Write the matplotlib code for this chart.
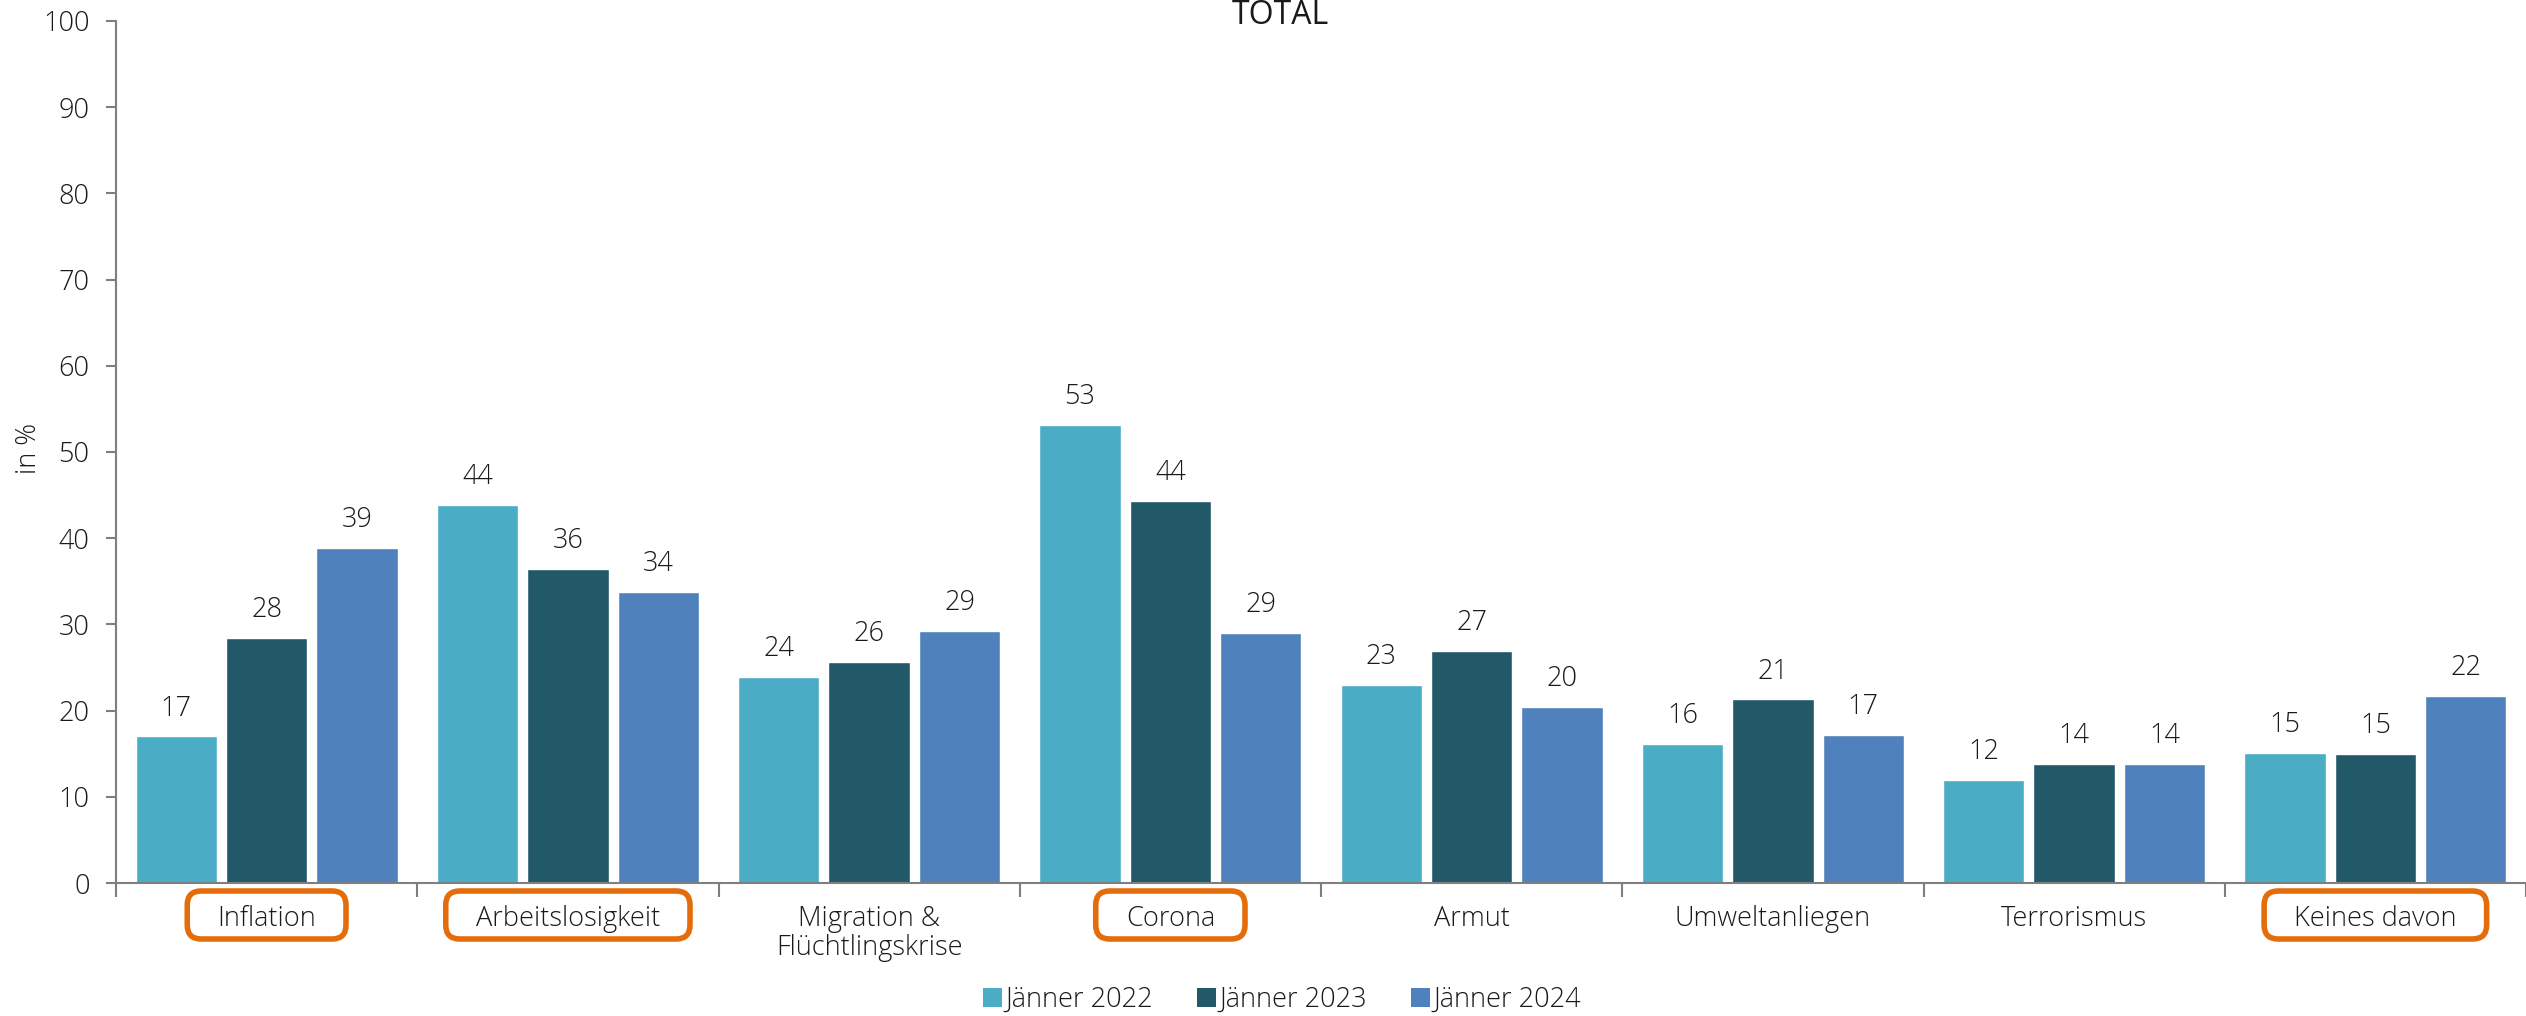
import numpy as np
import matplotlib
matplotlib.use("Agg")
import matplotlib.pyplot as plt
from matplotlib.patches import FancyBboxPatch, Patch
from matplotlib.transforms import IdentityTransform, blended_transform_factory

plt.rcParams['font.family'] = ['Open Sans', 'DejaVu Sans']
plt.rcParams['font.weight'] = 'light'

# data
categories = ["Inflation", "Arbeitslosigkeit", "Migration &\nFlüchtlingskrise", "Corona",
              "Armut", "Umweltanliegen", "Terrorismus", "Keines davon"]
highlighted = ["Inflation", "Arbeitslosigkeit", "Corona", "Keines davon"]
series_names = ["Jänner 2022", "Jänner 2023", "Jänner 2024"]
jan_2022 = [17.0, 43.9, 23.9, 53.1, 23.0, 16.1, 12.0, 15.1]
jan_2023 = [28.4, 36.4, 25.6, 44.3, 26.9, 21.3, 13.8, 15.0]
jan_2024 = [38.9, 33.8, 29.2, 29.0, 20.4, 17.2, 13.8, 21.7]
colors = ["#4BACC6", "#215968", "#4F81BD"]
y_ticks = list(range(0, 101, 10))

W, H, DPI = 2526, 1016, 100
fig = plt.figure(figsize=(W / DPI, H / DPI), dpi=DPI)
ax = fig.add_axes([116 / W, 133 / H, (W - 116) / W, 862 / H])

text_col = "#1a1a1a"
axis_col = "#7F7F7F"
fs = 19.5

x = np.arange(len(categories))
step, width = 0.3, 0.27
for i, (vals, col) in enumerate(zip([jan_2022, jan_2023, jan_2024], colors)):
    bars = ax.bar(x + (i - 1) * step, vals, width, color=col, edgecolor="white", linewidth=1,
                  label=series_names[i])
    for b, v in zip(bars, vals):
        ax.annotate(f"{round(v)}", (b.get_x() + b.get_width() / 2, v), xytext=(0, 15),
                    textcoords="offset points", ha="center", va="baseline",
                    fontsize=fs, color=text_col)

ax.set_xlim(-0.5, len(categories) - 0.5)
ax.set_ylim(0, 100)
ax.set_yticks(y_ticks)
ax.tick_params(axis="y", length=7, width=1.5, color=axis_col, pad=12, labelsize=fs,
               labelcolor=text_col)
ax.set_xticks(np.arange(-0.5, len(categories), 1))
ax.set_xticklabels([])
ax.tick_params(axis="x", length=10, width=1.5, color=axis_col)
for s in ["top", "right"]:
    ax.spines[s].set_visible(False)
for s in ["left", "bottom"]:
    ax.spines[s].set_color(axis_col)
    ax.spines[s].set_linewidth(1.5)

# category labels below the axis
trans = blended_transform_factory(ax.transData, ax.transAxes)
labels = []
for xi, cat in zip(x, categories):
    t = ax.text(xi, -22 / 862, cat, transform=trans, ha="center", va="top",
                fontsize=fs, color=text_col, linespacing=1.05)
    labels.append(t)

fig.text(29 / W, 1 - 448 / H, "in %", rotation=90, ha="center", va="center",
         fontsize=fs, color=text_col)
fig.text(1280 / W, 1 - 24 / H, "TOTAL", ha="center", va="baseline",
         fontsize=23, fontweight="normal", color=text_col)

handles = [Patch(facecolor=c, label=n) for c, n in zip(colors, series_names)]
fig.legend(handles=handles, loc="center", bbox_to_anchor=(1282 / W, 1 - 1000 / H),
           ncol=3, frameon=False, fontsize=fs, handlelength=0.7, handleheight=0.7,
           handletextpad=0.15, columnspacing=1.6, labelcolor=text_col)

# orange frames round the highlighted labels
fig.canvas.draw()
renderer = fig.canvas.get_renderer()
ax_bottom_px = ax.get_window_extent().y0
for t, cat in zip(labels, categories):
    if cat not in highlighted:
        continue
    bb = t.get_window_extent(renderer)
    pad_x = 30
    x0, x1 = bb.x0 - pad_x, bb.x1 + pad_x
    y_top = ax_bottom_px - 8
    y_bot = ax_bottom_px - 56
    box = FancyBboxPatch((x0, y_bot), x1 - x0, y_top - y_bot,
                         boxstyle="round,pad=0,rounding_size=14",
                         transform=IdentityTransform(), fill=False,
                         edgecolor="#E46C0A", linewidth=4, clip_on=False)
    fig.patches.append(box)

fig.savefig("out.png", dpi=DPI)
